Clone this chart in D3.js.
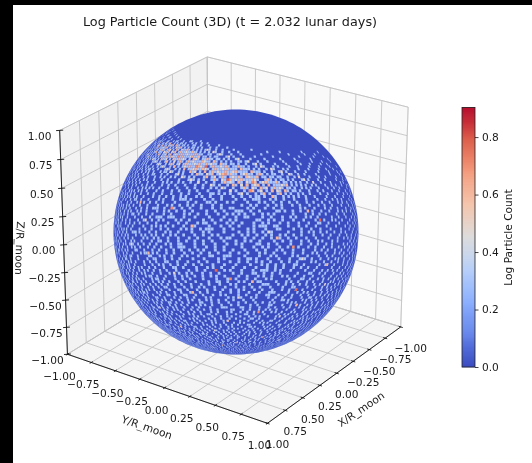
<!DOCTYPE html>
<html>
<head>
<meta charset="utf-8">
<script src="https://cdn.jsdelivr.net/npm/d3@7"></script>
<style>
	html, body { margin: 0; padding: 0; background: #fff; }
	svg { display: block; filter: blur(0.35px); }
	text { font-family: "DejaVu Sans", sans-serif; fill: #1a1a1a; }
</style>
</head>
<body>
<div id=chart></div>
<script>

var axisTicks = [-1, -0.75, -0.5, -0.25, 0, 0.25, 0.5, 0.75, 1];
var barTicks = [0, 0.2, 0.4, 0.6, 0.8];
var barMax = 0.903;
var coolwarm = ["#3b4cc0", "#6282ea", "#8db0fe", "#b7cff9", "#dddcdc", "#f4c5ad", "#f49a7b", "#dd604d", "#b40426"];

// lit cells on the visible face, [row, col, col, ...]
// row and col are steps across the face, 64 is the middle. everything else is count 1 (log 0)
var count2 = [
	[105,5,11],
	[104,3,8,16],
	[103,9,14,21],
	[102,2,6,12,13,24],
	[101,4,10,18,19,27],
	[100,1,7,15,22,23,30],
	[99,5,6,12,17,20,26,33],
	[98,3,9,10,14,19,24,25,29,36,41],
	[97,2,8,13,16,21,22,27,31,33,38,44],
	[96,4,7,11,18,20,25,26,29,34,35,40,47],
	[95,1,6,9,15,17,23,24,28,30,32,37,43,44,52],
	[94,3,5,12,14,19,21,22,27,29,33,36,39,40,46,50,58],
	[93,2,8,10,16,18,24,25,26,31,34,37,42,43,48,55,61,78,96],
	[92,1,6,7,13,20,23,28,29,32,35,38,41,44,45,49,53,66,88,104],
	[91,4,9,11,17,22,26,30,33,36,37,39,43,46,47,51,56,63,72,93,110],
	[90,2,5,14,19,21,27,31,34,38,40,42,44,48,50,54,57,59,70,83,99],
	[89,3,8,12,16,24,25,29,35,39,41,43,45,47,49,52,53,58,62,68,77,91,106,114],
	[88,1,6,10,18,20,28,33,37,42,46,48,50,51,55,56,60,65,74,80,97,109],
	[87,4,7,13,15,23,26,31,36,40,44,47,52,54,57,59,61,63,69,72,86,90,102,118],
	[86,2,9,11,17,22,27,30,34,41,45,49,53,55,58,60,62,64,67,71,79,85,95,112],
	[85,5,6,14,20,25,32,38,43,50,56,59,61,65,66,68,73,75,88,100,107,120],
	[84,1,3,12,18,28,29,36,47,51,54,57,63,64,69,72,76,82,92,116],
	[83,7,10,16,23,33,35,40,44,52,58,62,66,70,71,74,78,81,94,103,111],
	[82,4,8,15,21,26,37,46,48,55,60,65,67,68,72,75,79,84,90,98,117,122],
	[81,2,11,13,19,31,39,42,50,53,59,63,69,73,76,77,80,83,87,89,105,113],
	[80,6,9,17,24,30,41,45,56,61,64,70,74,78,79,82,85,91,96,101,108,119],
	[79,1,3,14,22,27,34,38,49,52,57,66,68,71,77,81,84,86,93,97,110,124],
	[78,5,12,16,20,25,33,43,47,54,62,67,72,75,80,83,88,99,104,115,121],
	[77,8,10,18,29,36,40,51,58,60,65,73,76,79,82,89,92,107,112],
	[76,2,7,13,21,23,32,44,46,55,63,69,74,78,85,87,94,100,118,125],
	[75,4,15,19,26,35,37,48,53,59,64,70,71,72,81,90,95,103,109,116],
	[74,1,6,11,24,28,31,42,50,57,61,68,77,83,86,97,106,113,122],
	[73,3,9,14,17,22,39,41,47,52,66,75,80,84,91,98,102,119,126],
	[72,5,8,20,27,33,34,35,45,56,62,63,74,87,93,105,111,123],
	[71,2,12,16,25,30,43,49,54,60,69,78,79,81,96,100,108,115,120],
	[70,1,7,10,19,23,38,46,51,58,65,67,73,89,92,104,117,127],
	[69,4,13,15,28,32,40,41,42,55,64,76,83,85,94,101,110,124],
	[68,6,9,21,26,36,48,53,59,71,72,80,88,97,107,113,121],
	[67,3,11,18,24,31,44,47,57,61,66,75,86,90,99,116,125],
	[66,2,5,14,29,37,39,50,62,70,77,78,82,93,103,109,118],
	[65,8,12,17,22,33,45,52,54,55,56,68,74,84,91,106,112,122,126],
	[64,1,4,10,19,27,35,41,49,60,65,73,87,95,98,102,115],
	[63,7,15,20,25,30,38,43,46,58,63,71,79,81,92,100,110,119,123],
	[62,3,6,13,23,34,36,51,59,67,76,85,89,104,108,114,127],
	[61,2,9,11,18,28,40,47,53,64,69,72,83,94,96,117,121],
	[60,5,16,21,26,32,44,45,57,61,75,78,87,91,101,111,124],
	[59,1,8,12,24,31,37,50,57,66,70,82,86,97,105,113,120,126],
	[58,4,7,14,19,29,39,42,48,57,63,74,80,93,99,107,116],
	[57,3,10,22,27,33,35,46,52,55,68,77,84,88,103,109,122],
	[56,6,15,17,25,36,41,51,60,61,62,72,90,95,112,118,125],
	[55,2,9,13,20,30,38,44,49,65,71,79,83,92,100,106,115,123],
	[54,1,5,11,23,28,34,47,54,58,73,76,86,98,102,110,119,127],
	[53,4,8,16,18,32,40,43,56,64,69,81,89,96,104,114,121],
	[52,2,7,12,21,26,37,45,50,59,67,75,85,91,108,117,124],
	[51,3,10,14,24,29,35,42,53,62,70,78,80,94,101,111,120,126],
	[50,6,9,19,22,31,39,48,55,63,66,74,87,97,105,113,122],
	[49,1,5,15,27,33,44,46,52,60,72,77,83,90,99,116,125],
	[48,2,8,11,17,25,36,41,57,68,71,84,93,103,107,118,123,127],
	[47,4,12,20,23,30,38,49,54,61,65,79,88,95,100,112,119],
	[46,3,7,13,18,28,34,43,51,58,74,75,76,86,92,109,115,124],
	[45,1,6,10,22,26,32,40,47,56,64,70,82,97,104,110,121,126],
	[44,5,9,15,21,29,37,45,53,59,67,78,85,91,101,113,120],
	[43,2,11,14,19,24,35,42,50,62,69,73,89,94,106,117,125],
	[42,4,7,16,27,31,39,48,55,60,72,81,87,98,102,111,119,123,127],
	[41,1,3,12,18,23,33,44,52,66,77,83,92,100,108,116,122],
	[40,6,8,13,25,28,36,46,49,57,63,71,86,95,105,114,124],
	[39,2,10,17,20,30,38,41,54,61,68,75,80,90,99,112,120,126],
	[38,5,9,14,22,34,43,47,51,65,73,84,93,103,107,118,123],
	[37,1,4,11,19,26,32,37,45,58,59,60,70,78,88,96,109,115,125,127],
	[36,3,7,15,24,29,40,50,56,67,74,82,91,101,113,121],
	[35,2,6,12,18,21,33,42,53,62,69,76,85,97,104,110,119,124],
	[34,1,8,10,16,27,35,39,48,55,64,72,89,94,100,116,122,126],
	[33,4,5,13,23,30,44,46,57,66,79,83,92,106,112,120,125],
	[32,3,9,14,20,25,36,41,51,61,68,75,87,98,103,108,117,123,127],
	[31,2,7,11,17,28,34,43,49,54,70,77,86,95,101,114,121],
	[30,1,6,12,22,31,38,47,58,63,73,80,90,99,105,111,118,124,126],
	[29,4,8,15,19,24,33,40,52,59,65,82,93,102,109,116,122],
	[28,2,5,10,13,26,35,45,50,56,67,74,84,88,97,107,113,120,125,127],
	[27,3,7,16,21,29,37,42,48,60,69,76,91,100,104,110,119,123],
	[26,1,9,11,18,23,32,39,53,62,71,78,85,94,106,115,117,126],
	[25,4,6,14,20,27,34,44,51,57,66,72,83,96,101,112,121,124,127],
	[24,2,8,12,15,25,30,41,46,55,64,79,89,98,103,108,118,122],
	[23,1,5,10,17,22,36,38,49,59,68,75,87,92,105,113,116,120,125],
	[22,3,7,13,19,28,33,43,52,61,70,81,90,99,110,119,123,126],
	[21,2,4,9,16,24,31,40,47,56,65,77,84,95,102,107,114,121,127],
	[20,1,6,11,14,21,26,35,45,54,63,73,86,93,104,111,117,122,124],
	[19,3,8,12,18,23,29,37,42,50,58,69,78,91,97,109,115,120,125],
	[18,2,5,10,15,20,32,39,48,60,67,74,83,88,100,106,113,118,123,126],
	[17,1,4,7,13,25,27,34,44,53,62,72,80,94,103,110,116,119,127],
	[16,3,6,9,16,19,22,30,41,49,57,66,76,85,96,101,108,112,121,124],
	[15,2,8,11,14,24,28,36,46,55,64,71,89,92,105,114,117,122,125],
	[14,1,5,7,12,18,21,33,38,51,59,69,79,87,98,107,111,120,123,126],
	[13,3,4,10,15,17,26,31,43,47,61,75,82,93,102,109,115,118,127],
	[12,2,6,9,13,20,23,29,35,52,56,68,77,90,100,106,113,121,124],
	[11,1,5,8,11,16,25,37,40,49,63,73,84,97,104,112,116,119,125],
	[10,3,7,12,14,22,27,33,45,58,70,81,88,95,108,114,120,123],
	[9,2,4,10,18,24,30,39,50,65,76,91,101,110,117,122,126],
	[8,1,6,9,15,21,34,44,54,62,74,86,99,105,113,119,124],
	[7,3,8,13,19,28,37,48,60,72,83,94,107,116,121,125],
	[6,2,5,11,17,26,32,42,56,67,79,89,103,111,118,123],
	[5,4,10,16,23,35,46,59,71,85,98,109,115,120],
	[4,1,7,14,29,41,53,68,82,96,106,117],
	[3,6,20,38,51,75,92,112]
];
var count2more = [
	[98,16,17,31,32,40,46],
	[97,11,12,25,35,36,42,47,50],
	[96,14,15,22,31,37,38,43,44,51,56],
	[95,12,19,22,26,35,39,41,46,48,55,60],
	[94,8,10,16,25,26,31,42,44,48,52,55,63,71],
	[93,13,20,21,28,29,39,40,45,46,50,52,58,65,84,108],
	[92,10,16,18,26,37,40,43,47,48,52,56,58,62,75,97],
	[91,15,20,24,29,32,41,42,48,50,53,55,60,67,80,102],
	[90,8,11,17,24,25,30,36,37,46,51,53,56,61,64,76,90,113],
	[89,10,18,20,27,32,33,37,48,51,55,56,60,65,66,73,84,99],
	[88,4,13,16,24,30,35,39,44,45,53,58,59,62,63,68,71,85,92,104],
	[87,9,18,21,29,33,38,42,46,51,56,64,66,67,75,79,81,96,110],
	[86,6,14,19,24,25,36,39,46,50,57,63,68,69,73,76,83,90,101,106],
	[85,10,16,23,28,34,35,41,47,54,58,62,67,71,72,78,81,84,93,115],
	[84,7,15,22,25,33,40,43,49,50,60,61,66,70,74,78,79,86,89,98,107],
	[83,3,13,19,26,30,38,46,48,55,60,64,68,75,77,80,84,87,99,118],
	[82,1,11,18,24,30,34,42,50,52,57,63,69,77,81,82,86,93,102,110],
	[81,7,16,22,27,35,37,44,47,56,61,66,71,78,82,85,92,99,116],
	[80,3,13,20,27,35,38,49,52,58,66,68,72,80,87,89,94,105,113,122],
	[79,10,17,25,29,31,42,46,55,60,63,74,79,83,89,91,102,106,118],
	[78,2,8,18,23,28,36,40,50,58,64,69,77,85,86,92,96,109,125],
	[77,4,13,15,21,25,32,44,47,55,56,62,68,71,84,87,97,101,116,121],
	[76,10,16,18,27,35,38,41,50,52,59,66,71,72,81,83,90,105,111],
	[75,7,12,22,23,30,41,44,45,46,56,67,76,78,85,99,106,120],
	[74,3,9,17,20,34,37,47,54,55,63,72,74,80,90,93,101,109,118,126],
	[73,6,12,19,26,30,35,44,49,56,59,69,71,78,87,95,108,114,123],
	[72,1,11,14,17,24,30,38,42,48,52,59,68,70,77,80,89,98,101,116,119],
	[71,6,9,19,21,27,35,38,40,46,57,64,65,66,72,84,87,92,105,111,124],
	[70,4,13,16,22,26,30,33,41,48,54,61,63,70,75,77,84,95,98,109,121],
	[69,2,8,10,19,24,35,36,37,46,50,60,67,68,73,80,89,91,105,115,119],
	[68,1,4,11,15,18,29,33,38,43,45,56,62,64,75,77,84,93,101,103,118,126],
	[67,7,8,14,21,27,35,40,51,53,54,63,70,73,79,82,94,95,105,111,120],
	[66,10,12,20,23,33,35,42,46,55,59,65,72,73,74,86,89,98,113,122],
	[65,3,5,15,19,27,30,37,40,47,49,60,63,70,78,79,87,95,100,116],
	[64,7,13,16,23,24,25,32,39,44,53,55,68,70,76,82,90,92,106,109,120,125],
	[63,2,10,11,18,28,33,35,41,50,53,56,66,68,74,76,84,87,96,105,114],
	[62,1,9,17,20,29,31,40,44,48,55,61,62,70,73,79,82,93,99,111,118,123],
	[61,5,6,14,22,24,33,36,37,44,50,56,60,67,77,80,87,90,101,104,113,125],
	[60,2,9,12,18,23,29,35,39,41,50,53,64,66,71,72,83,94,98,108,115,119],
	[59,4,6,15,19,22,27,34,41,44,45,46,54,60,73,75,79,90,93,101,109,117],
	[58,1,10,11,17,24,25,33,36,45,51,53,60,67,71,78,84,88,96,103,112,122],
	[57,6,7,15,18,29,30,39,42,49,58,62,65,72,74,81,92,94,98,106,114,118,126],
	[56,1,3,11,20,21,31,32,38,45,47,55,56,67,76,78,84,86,99,102,108,121],
	[55,5,6,16,17,25,33,34,41,53,58,60,68,69,75,87,89,96,104,110,119,126],
	[54,3,9,14,18,20,31,38,39,43,51,62,65,68,71,80,83,92,94,106,114,123],
	[53,1,6,11,13,22,28,35,37,46,49,52,60,73,75,78,85,86,99,100,110,118,125],
	[52,4,10,16,18,24,30,33,41,42,54,56,63,71,78,81,88,95,103,113,120],
	[51,1,6,8,17,20,27,32,38,47,50,60,66,73,74,75,84,90,98,104,107,116,123],
	[50,2,4,13,15,25,27,35,43,46,52,58,70,71,77,80,92,93,100,110,118,125],
	[49,8,10,18,21,29,30,37,41,49,55,57,65,68,74,81,86,94,104,108,112,121],
	[48,4,5,14,20,22,30,32,33,44,47,52,61,64,75,77,89,90,97,100,110,114,120],
	[47,1,8,9,17,16,26,33,35,42,45,57,58,67,72,73,83,85,92,105,107,116,123],
	[46,5,11,15,22,24,31,37,40,47,54,62,64,69,80,83,89,96,99,104,112,119,126],
	[45,3,8,13,14,19,29,35,36,44,50,52,60,67,73,77,86,87,93,101,107,116,122],
	[44,1,3,12,18,24,26,33,41,42,49,56,62,65,71,74,82,88,96,105,108,117,124],
	[43,6,8,16,21,22,30,32,39,46,53,58,65,77,78,79,85,92,98,102,110,114,121],
	[42,2,9,12,20,23,35,36,43,44,51,58,65,68,76,77,84,91,95,105,108,115,125],
	[41,5,6,14,21,28,29,38,41,47,54,61,63,70,72,80,87,96,97,104,112,119,126],
	[40,2,3,10,16,19,22,31,33,40,44,52,54,60,67,79,83,84,93,98,101,110,118,121],
	[39,4,7,13,14,25,27,34,35,44,49,50,57,65,72,78,86,88,95,103,107,116,123],
	[38,1,3,7,12,18,26,29,37,40,49,54,58,62,70,78,79,88,91,97,100,110,113,121,126],
	[37,2,8,15,22,23,29,35,41,48,53,66,67,74,81,85,93,100,103,112,118,122],
	[36,1,5,10,12,18,21,31,35,37,44,47,53,62,63,70,77,79,87,96,98,107,109,116,124],
	[35,4,9,14,15,25,27,30,38,45,48,56,60,66,72,80,82,90,92,100,106,115,122,126],
	[34,3,5,12,19,20,29,32,42,44,51,52,60,68,69,77,84,87,97,104,108,112,119],
	[33,1,7,10,16,18,26,27,36,38,49,53,60,62,70,73,75,88,95,99,102,109,116,122],
	[32,5,7,11,17,18,28,30,33,43,45,54,57,64,71,72,83,91,93,100,105,113,120,125],
	[31,3,4,9,14,20,23,31,37,38,46,52,58,60,66,74,81,82,90,97,104,109,117,124],
	[30,3,8,10,15,18,26,27,35,41,44,52,54,66,68,76,78,85,94,96,102,108,115,121],
	[29,1,6,11,13,21,22,29,36,38,47,49,56,62,70,71,78,87,88,97,105,112,119,125],
	[28,3,7,9,16,18,23,30,32,41,42,53,60,62,71,72,79,81,92,94,101,104,110,117,123],
	[27,1,5,10,13,18,25,26,34,40,45,51,55,63,65,73,80,83,86,96,98,107,113,116,126],
	[26,3,6,7,14,16,20,28,30,36,43,46,49,57,59,68,74,82,90,92,100,103,111,120,123],
	[25,2,8,10,12,17,23,25,31,37,40,47,54,60,63,70,75,79,88,91,98,105,110,116,119],
	[24,4,6,10,14,18,20,28,34,36,43,44,52,58,61,69,72,76,85,92,95,100,106,112,115,125],
	[23,3,7,8,12,15,20,26,28,32,41,45,53,56,63,65,72,79,83,90,97,101,108,118,123],
	[22,1,5,9,11,16,22,25,30,36,38,46,47,56,58,65,66,75,77,85,87,95,103,106,114,116,121],
	[21,6,7,11,13,18,20,27,29,34,36,44,50,52,60,61,70,74,80,89,91,98,105,110,117,124],
	[20,3,4,8,12,16,18,24,28,30,38,41,48,50,58,59,68,70,78,80,89,97,99,108,114,119,126],
	[19,1,5,6,10,14,16,21,25,33,34,40,46,54,55,62,65,74,75,83,87,94,101,106,111,117,123],
	[18,3,7,8,12,13,17,23,25,30,35,42,44,52,54,63,64,71,78,79,91,94,103,109,111,116,121],
	[17,2,5,9,11,15,18,21,29,31,37,39,47,49,57,59,67,69,76,84,86,97,99,106,113,122,125],
	[16,1,4,7,11,13,18,24,26,33,35,38,44,46,54,60,62,71,73,81,90,93,99,105,110,114,118,126],
	[15,3,5,6,10,12,17,20,22,31,33,39,41,49,51,58,61,68,75,77,84,86,96,99,103,110,120,127],
	[14,2,3,8,10,14,16,23,25,28,36,41,43,47,55,56,63,65,73,75,83,90,94,101,104,113,116,122],
	[13,1,6,8,12,13,19,21,24,29,34,37,40,50,52,57,64,67,71,78,86,89,97,99,106,111,122,125],
	[12,3,4,7,11,15,17,25,27,32,38,41,46,48,59,61,65,72,73,80,85,93,96,103,109,116,118,126],
	[11,3,6,9,13,14,18,20,28,30,33,43,45,53,55,60,66,68,76,78,87,91,100,107,109,114,122,127],
	[10,1,5,9,10,16,18,24,25,30,36,38,42,48,50,55,61,63,74,77,84,86,92,99,104,111,116,118,125],
	[9,1,6,7,12,14,20,22,27,33,36,42,45,53,55,60,68,71,79,83,87,95,97,105,108,113,120,124],
	[8,3,4,11,12,18,24,26,29,38,40,47,50,57,59,66,70,78,81,89,92,96,102,109,111,116,122,127],
	[7,1,5,6,10,16,22,24,31,33,40,43,51,55,64,67,75,78,86,90,98,100,104,111,113,119,123,127],
	[6,3,8,9,14,20,23,28,36,38,45,50,53,59,63,71,75,82,84,93,96,100,107,114,116,121,126],
	[5,2,7,13,19,20,26,29,38,42,50,55,63,66,75,78,80,88,92,102,104,112,118,123],
	[4,3,5,10,18,21,25,33,37,45,48,57,60,64,72,76,87,90,100,103,111,114,121],
	[3,2,10,15,25,30,42,46,56,61,68,80,84,97,101,107,116,120],
	[2,5,18,28,40,52,64,72,88,99,110,118]
];
var count3 = [
	[97,24],[96,19,28],[95,25,34],[94,24,31,38,51],[93,28,33,41,54],[92,30,36,42,57,15],[91,28,35,44,61,18],[90,32,41,47,65,23],[89,37,46,51,69,26],[88,40,47,54,72,29],
	[87,43,50,58,74,32],[86,47,52,59,78,35],[85,48,57,63,82,37],[84,53,58,67,85,41],[83,56,63,69,89,43],[82,59,64,71,91,47],[81,62,68,74,95,50],[80,66,71,81,55],[79,70,75,80,59],[78,73,79,62],[77,66],
	[68,30],[64,75],[60,22],[55,88],[50,41],[46,102],[41,65],[37,27],[33,85],[26,52],[20,98],[14,40],[9,72],[7,55],[6,90]
];
var count4 = [
	[97,18,28],[96,23,30,33],[95,20,27,36],[94,26,30,35,41],[93,22,30,35,38,44],[92,25,33,39,46],[91,31,34,40,45,48],[90,29,36,39,46,52],[89,33,40,44,50,55],
	[88,36,43,49,52,58],[87,38,45,49,55,60,65],[86,43,48,51,56,61,66],[85,46,52,55,60,64,70],[84,49,55,59,62,68,73],[83,53,59,65,68,72],[82,56,62,66,70,76],
	[81,60,65,71,75,79],[80,63,68,72,76,83],[79,67,73,78],[78,70,77,82],[77,74,80],[76,77],
	[74,26],[71,90],[66,49],[62,78],[57,31],[53,100],[47,70],[43,47],[38,91],[31,60],[28,32],[22,82],[16,52],[12,70],[8,44],[6,62],[5,78],[4,90]
];
var count5 = [
	[91,38],[87,48],[84,60],[81,70],[78,69],
	[72,41],[59,84],[48,62],[35,74],[18,65]
];
var count6 = [[87,52],[82,61],[51,57],[44,88],[68,95]];

var W = 532, H = 463;
var svg = d3.select("#chart").append("svg").attr("width", W).attr("height", H);

// view of the box
var elev = 25 * Math.PI / 180, azim = 35 * Math.PI / 180, persp = 0.0528;
var px = d3.scaleLinear().domain([-1, 1]).range([236 - 122.3, 236 + 122.3]);
var py = d3.scaleLinear().domain([-1, 1]).range([232 + 122.3, 232 - 122.3]);

function project(x, y, z) {
	var u = -Math.sin(azim) * x + Math.cos(azim) * y;
	var v = -Math.sin(elev) * (Math.cos(azim) * x + Math.sin(azim) * y) + Math.cos(elev) * z;
	var n = Math.cos(elev) * (Math.cos(azim) * x + Math.sin(azim) * y) + Math.sin(elev) * z;
	var d = 1 - n * persp;
	return [px(u / d), py(v / d)];
}

var line3 = d3.line();

function pane(pts, color) {
	svg.append("path").attr("d", line3(pts.map(function(p) { return project(p[0], p[1], p[2]); })) + "Z").attr("fill", color).attr("stroke", "#d9d9d9").attr("stroke-width", 0.8);
}
pane([[1,-1,-1],[1,-1,1],[-1,-1,1],[-1,-1,-1]], "#f2f2f2");
pane([[-1,-1,-1],[-1,-1,1],[-1,1,1],[-1,1,-1]], "#f9f9f9");
pane([[1,-1,-1],[-1,-1,-1],[-1,1,-1],[1,1,-1]], "#f5f5f5");

function gridLine(a, b) {
	svg.append("path").attr("d", line3([project(a[0], a[1], a[2]), project(b[0], b[1], b[2])])).attr("stroke", "#c4c4c4").attr("stroke-width", 0.9).attr("fill", "none");
}
axisTicks.forEach(function(t) {
	gridLine([t, -1, -1], [t, -1, 1]);
	gridLine([t, -1, -1], [t, 1, -1]);
	gridLine([-1, t, -1], [-1, t, 1]);
	gridLine([-1, t, -1], [1, t, -1]);
	gridLine([1, -1, t], [-1, -1, t]);
	gridLine([-1, -1, t], [-1, 1, t]);
});

// axes and tick labels
function axisLine(a, b) {
	svg.append("path").attr("d", line3([project(a[0], a[1], a[2]), project(b[0], b[1], b[2])])).attr("stroke", "#111").attr("stroke-width", 0.9).attr("fill", "none");
}
axisLine([1, -1, -1], [1, -1, 1]);
axisLine([1, -1, -1], [1, 1, -1]);
axisLine([-1, 1, -1], [1, 1, -1]);

var fmt = function(t) { return d3.format(".2f")(t).replace("-", "\u2212"); };

function tickLabels(name, pos, t0, t1, dx, dy) {
	svg.append("g").selectAll("path").data(axisTicks).enter().append("path")
		.attr("d", function(t) { return line3([pos(t, t0), pos(t, t1)]); })
		.attr("stroke", "#111").attr("stroke-width", 0.9).attr("fill", "none");
	svg.append("g").attr("class", name).selectAll("text").data(axisTicks).enter().append("text")
		.attr("x", function(t) { return pos(t, 0)[0] + dx; })
		.attr("y", function(t) { return pos(t, 0)[1] + dy; })
		.attr("text-anchor", "middle").attr("dominant-baseline", "central")
		.attr("font-size", 10.6).text(fmt);
}
tickLabels("z-ticks", function(t, e) { return project(1 + 0.02 * e, -1 - 0.02 * e, t); }, -1, 1, -20, 5.5);
tickLabels("y-ticks", function(t, e) { return project(1 + 0.02 * e, t, -1); }, -1, 1, -8, 22);
tickLabels("x-ticks", function(t, e) { return project(t, 1 + 0.02 * e, -1); }, -1, 1, 10, 21);

function axisTitle(s, x, y, r) {
	svg.append("text").attr("transform", "translate(" + x + "," + y + ") rotate(" + r + ")")
		.attr("text-anchor", "middle").attr("dominant-baseline", "central").attr("font-size", 10.6).text(s);
}
axisTitle("Z/R_moon", 20, 248, 92);
axisTitle("Y/R_moon", 147, 427, 19);
axisTitle("X/R_moon", 361, 409, -34);

// sphere
var globe = d3.geoOrthographic().scale(122.5).translate([236, 232]).rotate([0, 0]).precision(0.3);
var color = d3.scaleLinear().domain(d3.range(9).map(function(i) { return barMax * i / 8; })).range(coolwarm);

svg.append("path").attr("d", d3.geoPath(globe)({type: "Sphere"})).attr("fill", color(0));

var lon = d3.scaleLinear().domain([0, 128]).range([-90, 90]).clamp(true);
var lat = d3.scaleLinear().domain([0, 128]).range([-90, 90]).clamp(true);

var cells = [];
function addCells(rows, value) {
	rows.forEach(function(r) {
		r.slice(1).forEach(function(c) { cells.push({row: r[0], col: c, value: value}); });
	});
}
addCells(count2, Math.log10(2));
addCells(count2more, Math.log10(2));
addCells(count3, Math.log10(3));
addCells(count4, Math.log10(4));
addCells(count5, Math.log10(5));
addCells(count6, Math.log10(6));

svg.append("g").selectAll("path").data(cells).enter().append("path")
	.attr("fill", function(d) { return color(d.value); })
	.attr("d", function(d) {
		return line3([
			globe([lon(d.col - 0.5), lat(d.row - 0.5)]),
			globe([lon(d.col + 0.5), lat(d.row - 0.5)]),
			globe([lon(d.col + 0.5), lat(d.row + 0.5)]),
			globe([lon(d.col - 0.5), lat(d.row + 0.5)])
		]) + "Z";
	});

// colorbar
var barY = d3.scaleLinear().domain([0, barMax]).range([367, 107.5]);
var barSteps = d3.range(0, 256).map(function(i) { return barMax * i / 256; });
svg.append("g").selectAll("rect").data(barSteps).enter().append("rect")
	.attr("x", 462).attr("width", 13)
	.attr("y", function(d) { return barY(d + barMax / 256) - 0.3; })
	.attr("height", barY(0) - barY(barMax / 256) + 0.6)
	.attr("fill", function(d) { return color(d); });
svg.append("rect").attr("x", 462).attr("y", 107.5).attr("width", 13).attr("height", 259.5).attr("fill", "none").attr("stroke", "#222").attr("stroke-width", 0.8);

var barAxis = d3.axisRight(barY).tickValues(barTicks).tickFormat(d3.format(".1f")).tickSize(3.5).tickPadding(3.5);
var barG = svg.append("g").attr("transform", "translate(475,0)").call(barAxis);
barG.select(".domain").remove();
barG.selectAll("line").attr("stroke", "#111").attr("stroke-width", 0.8);
barG.selectAll("text").attr("font-size", 10.6).attr("font-family", '"DejaVu Sans", sans-serif');

svg.append("text").attr("transform", "translate(508,237.5) rotate(-90)")
	.attr("text-anchor", "middle").attr("dominant-baseline", "central").attr("font-size", 10.6).text("Log Particle Count");

svg.append("text").attr("x", 230).attr("y", 21.5).attr("text-anchor", "middle").attr("dominant-baseline", "central")
	.attr("font-size", 12.8).text("Log Particle Count (3D) (t = 2.032 lunar days)");

// frame of the original screenshot
svg.append("rect").attr("width", W).attr("height", 5).attr("fill", "#000");
svg.append("rect").attr("width", 13).attr("height", H).attr("fill", "#000");

</script>
</body>
</html>
